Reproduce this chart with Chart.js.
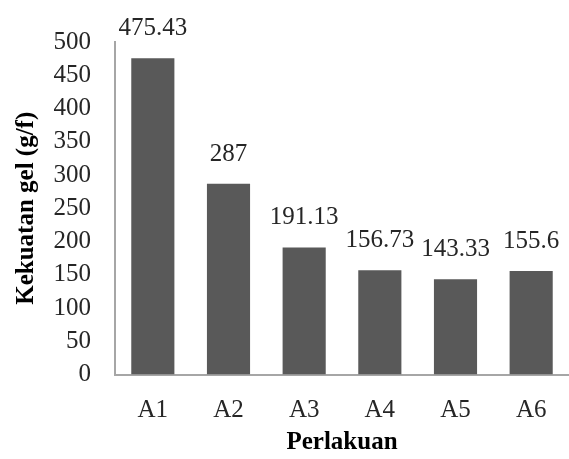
<!DOCTYPE html>
<html>
<head>
<meta charset="utf-8">
<script src="https://cdn.jsdelivr.net/npm/chart.js@4"></script>
<style>
html,body{margin:0;padding:0;background:#fff;}
canvas{display:block;}
</style>
</head>
<body>
<canvas id="c" width="569" height="459"></canvas>
<script>
const categories = ['A1','A2','A3','A4','A5','A6'];
const values = [475.43, 287, 191.13, 156.73, 143.33, 155.6];
const valueLabels = ['475.43','287','191.13','156.73','143.33','155.6'];
const yTitle = 'Kekuatan gel (g/f)';
const xTitle = 'Perlakuan';

const FONT = "'Liberation Serif', 'Times New Roman', serif";

const labelPlugin = {
  id: 'valueLabels',
  afterDatasetsDraw(chart) {
    const ctx = chart.ctx;
    const meta = chart.getDatasetMeta(0);
    ctx.save();
    ctx.font = '25px ' + FONT;
    ctx.fillStyle = '#262626';
    ctx.textAlign = 'center';
    ctx.textBaseline = 'alphabetic';
    meta.data.forEach((bar, i) => {
      ctx.fillText(valueLabels[i], bar.x, bar.y - 23);
    });
    ctx.restore();
  }
};

new Chart(document.getElementById('c'), {
  type: 'bar',
  data: {
    labels: categories,
    datasets: [{
      data: values,
      backgroundColor: '#595959',
      borderWidth: 0,
      categoryPercentage: 1,
      barPercentage: 0.57
    }]
  },
  options: {
    responsive: false,
    animation: false,
    events: [],
    layout: { padding: { top: 42, right: 0, left: 0, bottom: 0 } },
    plugins: { legend: { display: false }, tooltip: { enabled: false } },
    scales: {
      x: {
        grid: { display: false, drawTicks: false, tickLength: 0 },
        border: { display: true, color: '#a6a6a6', width: 2 },
        ticks: { color: '#262626', font: { family: FONT, size: 25 }, padding: 21, maxRotation: 0 },
        title: { display: true, text: xTitle, color: '#000', font: { family: FONT, size: 25, weight: 'bold' }, padding: { top: 0, bottom: 1 } },
        afterFit(s) { s.height = 84.5; }
      },
      y: {
        min: 0, max: 500,
        grid: { display: false, drawTicks: false, tickLength: 0 },
        border: { display: true, color: '#a6a6a6', width: 2 },
        ticks: { stepSize: 50, color: '#262626', font: { family: FONT, size: 25 }, padding: 24 },
        title: { display: true, text: yTitle, color: '#000', font: { family: FONT, size: 25, weight: 'bold' }, padding: { top: 12, bottom: 0 } },
        afterFit(s) { s.width = 115; }
      }
    }
  },
  plugins: [labelPlugin]
});
</script>
</body>
</html>
